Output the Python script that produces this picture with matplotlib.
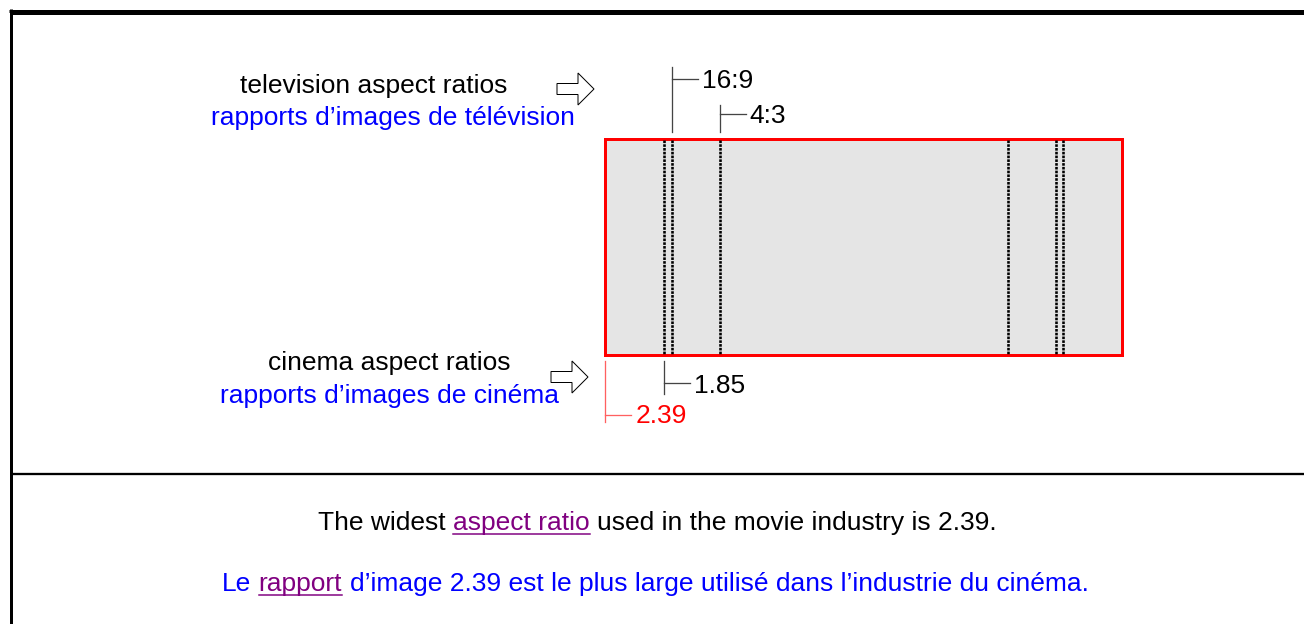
import matplotlib.pyplot as plt
from matplotlib.patches import Rectangle, Polygon

plt.rcParams['font.family'] = ['Liberation Sans', 'DejaVu Sans']

# aspect ratios (width / height)
ratio_labels = ['2.39', '1.85', '16:9', '4:3']
ratio_values = [2.39, 1.85, 16 / 9, 4 / 3]
ratio_colors = ['red', 'black', 'black', 'black']

# geometry of the widest frame, in pixels
H = 216
cx = 863.5
top = 139

fig = plt.figure(figsize=(13.04, 6.24), dpi=100)
ax = fig.add_axes([0, 0, 1, 1])
ax.set_xlim(0, 1304)
ax.set_ylim(624, 0)
ax.axis('off')

FS = 19
PT = 72 / 100  # points per pixel

# borders
ax.plot([10.5, 10.5], [9, 624], color='black', lw=3 * PT, solid_capstyle='butt')
ax.plot([9, 1304], [10.5, 10.5], color='black', lw=3 * PT, solid_capstyle='butt')
ax.plot([12, 1304], [14.2, 14.2], color='black', lw=2 * PT, solid_capstyle='butt')
ax.plot([12, 1304], [473.8, 473.8], color='black', lw=2.3 * PT, solid_capstyle='butt')

# frame (widest ratio)
W = H * ratio_values[0]
ax.add_patch(Rectangle((cx - W / 2, top), W, H, facecolor='#e5e5e5',
                       edgecolor='red', lw=3 * PT, zorder=2))

# dotted crop lines for the other ratios
for r in ratio_values[1:]:
    w = H * r
    for x in (cx - w / 2, cx + w / 2):
        ax.plot([x, x], [top + 1, top + H - 1], color='black', lw=2.6 * PT,
                linestyle=(0, (1.0, 0.45)), zorder=3)

# ticker annotations: (vertical top, vertical bottom, tick y, baseline)
tick_layout = {
    '2.39': (361, 422, 415, 423),
    '1.85': (361, 394, 383, 393),
    '16:9': (67, 132, 79, 88),
    '4:3': (105, 132, 114, 123),
}
for lab, r, col in zip(ratio_labels, ratio_values, ratio_colors):
    x = cx - H * r / 2
    y0, y1, yt, yb = tick_layout[lab]
    lc = '#ff6060' if col == 'red' else '#444444'
    ax.plot([x, x], [y0, y1], color=lc, lw=1.3 * PT)
    ax.plot([x, x + 26], [yt, yt], color=lc, lw=1.3 * PT)
    ax.text(x + 30, yb, lab, color=col, fontsize=FS, va='baseline', ha='left')

# side labels
ax.text(374, 93, 'television aspect ratios', color='black', fontsize=FS,
        ha='center', va='baseline')
ax.text(392.5, 125, 'rapports d\u2019images de t\u00e9l\u00e9vision', color='blue',
        fontsize=FS, ha='center', va='baseline')
ax.text(389.5, 370, 'cinema aspect ratios', color='black', fontsize=FS,
        ha='center', va='baseline')
ax.text(390, 403, 'rapports d\u2019images de cin\u00e9ma', color='blue',
        fontsize=FS, ha='center', va='baseline')


def block_arrow(x0, yc):
    L, h, sh, hx = 37, 32, 11, 21
    pts = [(x0, yc - sh / 2), (x0 + hx, yc - sh / 2), (x0 + hx, yc - h / 2),
           (x0 + L, yc), (x0 + hx, yc + h / 2), (x0 + hx, yc + sh / 2),
           (x0, yc + sh / 2)]
    ax.add_patch(Polygon(pts, closed=True, facecolor='white',
                         edgecolor='black', lw=1 * PT))


block_arrow(557, 89)
block_arrow(551, 377)

# bottom sentences with coloured, underlined links
fig.canvas.draw()
renderer = fig.canvas.get_renderer()


def width(s):
    t = ax.text(0, 0, s, fontsize=FS)
    bb = t.get_window_extent(renderer)
    t.remove()
    return bb.width


def mixed_line(x0, yb, segments):
    before = ''
    for s, col, ul in segments:
        if before:
            x = x0 + width(before + s[0]) - width(s[0])
        else:
            x = x0
        ax.text(x, yb, s, color=col, fontsize=FS, ha='left', va='baseline')
        if ul:
            ax.plot([x, x + width(s)], [yb + 4, yb + 4], color=col, lw=1.5 * PT)
        before += s + ' '


mixed_line(318, 530, [('The widest', 'black', False),
                      ('aspect ratio', 'purple', True),
                      ('used in the movie industry is 2.39.', 'black', False)])
mixed_line(222, 591, [('Le', 'blue', False),
                      ('rapport', 'purple', True),
                      ('d\u2019image 2.39 est le plus large utilis\u00e9 dans l\u2019industrie du cin\u00e9ma.',
                       'blue', False)])

fig.savefig('out.png', dpi=100)
